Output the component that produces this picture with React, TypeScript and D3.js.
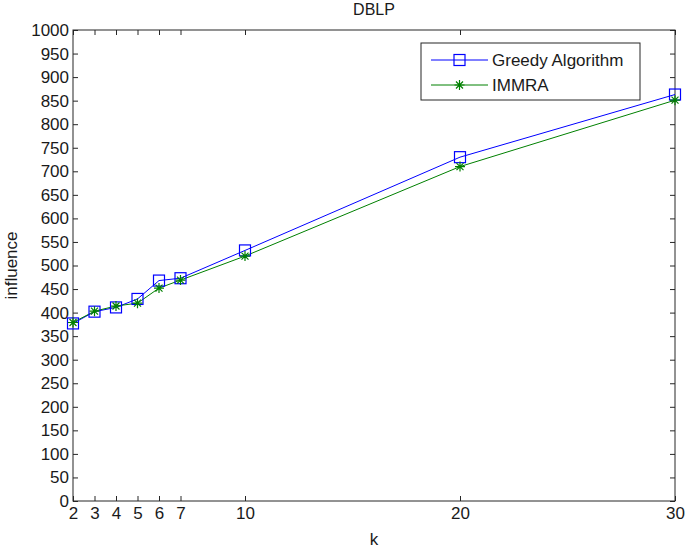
import React, { useRef, useEffect } from 'react';
import * as d3 from 'd3';

const ks = [2, 3, 4, 5, 6, 7, 10, 20, 30];
const greedy = [377, 402, 411, 429, 468, 473, 532, 730, 863];
const immra = [379, 403, 414, 420, 452, 469, 520, 710, 851];
const yTicks = d3.range(0, 1001, 50);
const seriesNames = ['Greedy Algorithm', 'IMMRA'];

function App() {
  const ref = useRef<SVGSVGElement>(null);

  useEffect(() => {
    const width = 685;
    const height = 549;
    const marginTop = 30;
    const marginRight = 10;
    const marginBottom = 48;
    const marginLeft = 73;
    const font = 'Liberation Sans, Arial, sans-serif';

    const svg = d3.select(ref.current);
    svg.selectAll('*').remove();

    const x = d3.scaleLinear()
      .domain([2, 30])
      .range([marginLeft, width - marginRight]);

    const y = d3.scaleLinear()
      .domain([0, 1000])
      .range([height - marginBottom, marginTop]);

    svg.append('rect')
      .attr('width', width).attr('height', height).attr('fill', '#fff');

    const tickLen = 5;
    const axisColor = '#262626';

    const styleAxis = (g: any) => {
      g.select('.domain').remove();
      g.selectAll('.tick line').attr('stroke', axisColor);
      g.selectAll('.tick text')
        .attr('font-family', font).attr('font-size', 17).attr('fill', '#1a1a1a');
    };

    // bottom / top axes
    svg.append('g')
      .attr('transform', `translate(0,${height - marginBottom})`)
      .call(d3.axisBottom(x).tickValues(ks).tickFormat(d3.format('d')).tickSizeInner(-tickLen).tickSizeOuter(0).tickPadding(6))
      .call(styleAxis);
    svg.append('g')
      .attr('transform', `translate(0,${marginTop})`)
      .call(d3.axisTop(x).tickValues(ks).tickFormat(() => '').tickSizeInner(-tickLen).tickSizeOuter(0))
      .call(styleAxis);

    // left / right axes
    svg.append('g')
      .attr('transform', `translate(${marginLeft},0)`)
      .call(d3.axisLeft(y).tickValues(yTicks).tickFormat(d3.format('d')).tickSizeInner(-tickLen).tickSizeOuter(0).tickPadding(4))
      .call(styleAxis);
    svg.append('g')
      .attr('transform', `translate(${width - marginRight},0)`)
      .call(d3.axisRight(y).tickValues(yTicks).tickFormat(() => '').tickSizeInner(-tickLen).tickSizeOuter(0))
      .call(styleAxis);

    // box
    svg.append('rect')
      .attr('x', marginLeft).attr('y', marginTop)
      .attr('width', width - marginLeft - marginRight)
      .attr('height', height - marginTop - marginBottom)
      .attr('fill', 'none').attr('stroke', axisColor).attr('stroke-width', 1);

    const line = d3.line<number>()
      .x((d, i) => x(ks[i]))
      .y(d => y(d));

    const drawSquare = (g: any, cx: number, cy: number) => {
      g.append('rect')
        .attr('x', cx - 5.5).attr('y', cy - 5.5)
        .attr('width', 11).attr('height', 11)
        .attr('fill', 'none').attr('stroke', '#0000ff').attr('stroke-width', 1.2);
    };
    const drawStar = (g: any, cx: number, cy: number) => {
      const r = 5;
      const p = `M${cx - r},${cy}L${cx + r},${cy}M${cx},${cy - r}L${cx},${cy + r}` +
        `M${cx - r * 0.7},${cy - r * 0.7}L${cx + r * 0.7},${cy + r * 0.7}` +
        `M${cx - r * 0.7},${cy + r * 0.7}L${cx + r * 0.7},${cy - r * 0.7}`;
      g.append('path').attr('d', p).attr('stroke', '#008000').attr('stroke-width', 1.2).attr('fill', 'none');
    };

    const plot = svg.append('g');
    plot.append('path').attr('d', line(greedy)).attr('fill', 'none').attr('stroke', '#0000ff').attr('stroke-width', 1);
    plot.append('path').attr('d', line(immra)).attr('fill', 'none').attr('stroke', '#008000').attr('stroke-width', 1);
    greedy.forEach((v, i) => drawSquare(plot, x(ks[i]), y(v)));
    immra.forEach((v, i) => drawStar(plot, x(ks[i]), y(v)));

    // legend
    const lg = svg.append('g').attr('transform', 'translate(421,43)');
    lg.append('rect').attr('width', 219).attr('height', 57)
      .attr('fill', '#fff').attr('stroke', axisColor).attr('stroke-width', 1);
    const rows = [
      { name: seriesNames[0], color: '#0000ff', draw: drawSquare, yy: 17 },
      { name: seriesNames[1], color: '#008000', draw: drawStar, yy: 42 },
    ];
    rows.forEach(r => {
      lg.append('line').attr('x1', 10).attr('x2', 67).attr('y1', r.yy).attr('y2', r.yy)
        .attr('stroke', r.color).attr('stroke-width', 1);
      r.draw(lg, 38.5, r.yy);
      lg.append('text').attr('x', 71).attr('y', r.yy).attr('dy', '0.35em')
        .attr('font-family', font).attr('font-size', 17).attr('fill', '#1a1a1a')
        .text(r.name);
    });

    // title and labels
    svg.append('text')
      .attr('x', (marginLeft + width - marginRight) / 2).attr('y', 15)
      .attr('text-anchor', 'middle')
      .attr('font-family', font).attr('font-size', 16).attr('fill', '#1a1a1a')
      .text('DBLP');
    svg.append('text')
      .attr('x', (marginLeft + width - marginRight) / 2).attr('y', 545)
      .attr('text-anchor', 'middle')
      .attr('font-family', font).attr('font-size', 17).attr('fill', '#1a1a1a')
      .text('k');
    svg.append('text')
      .attr('transform', `translate(17,${(marginTop + height - marginBottom) / 2}) rotate(-90)`)
      .attr('text-anchor', 'middle')
      .attr('font-family', font).attr('font-size', 17).attr('fill', '#1a1a1a')
      .text('influence');
  }, []);

  return (
    <svg ref={ref} width={685} height={549}
      style={{ position: 'absolute', left: 0, top: 0, display: 'block' }} />
  );
}

export default App;
